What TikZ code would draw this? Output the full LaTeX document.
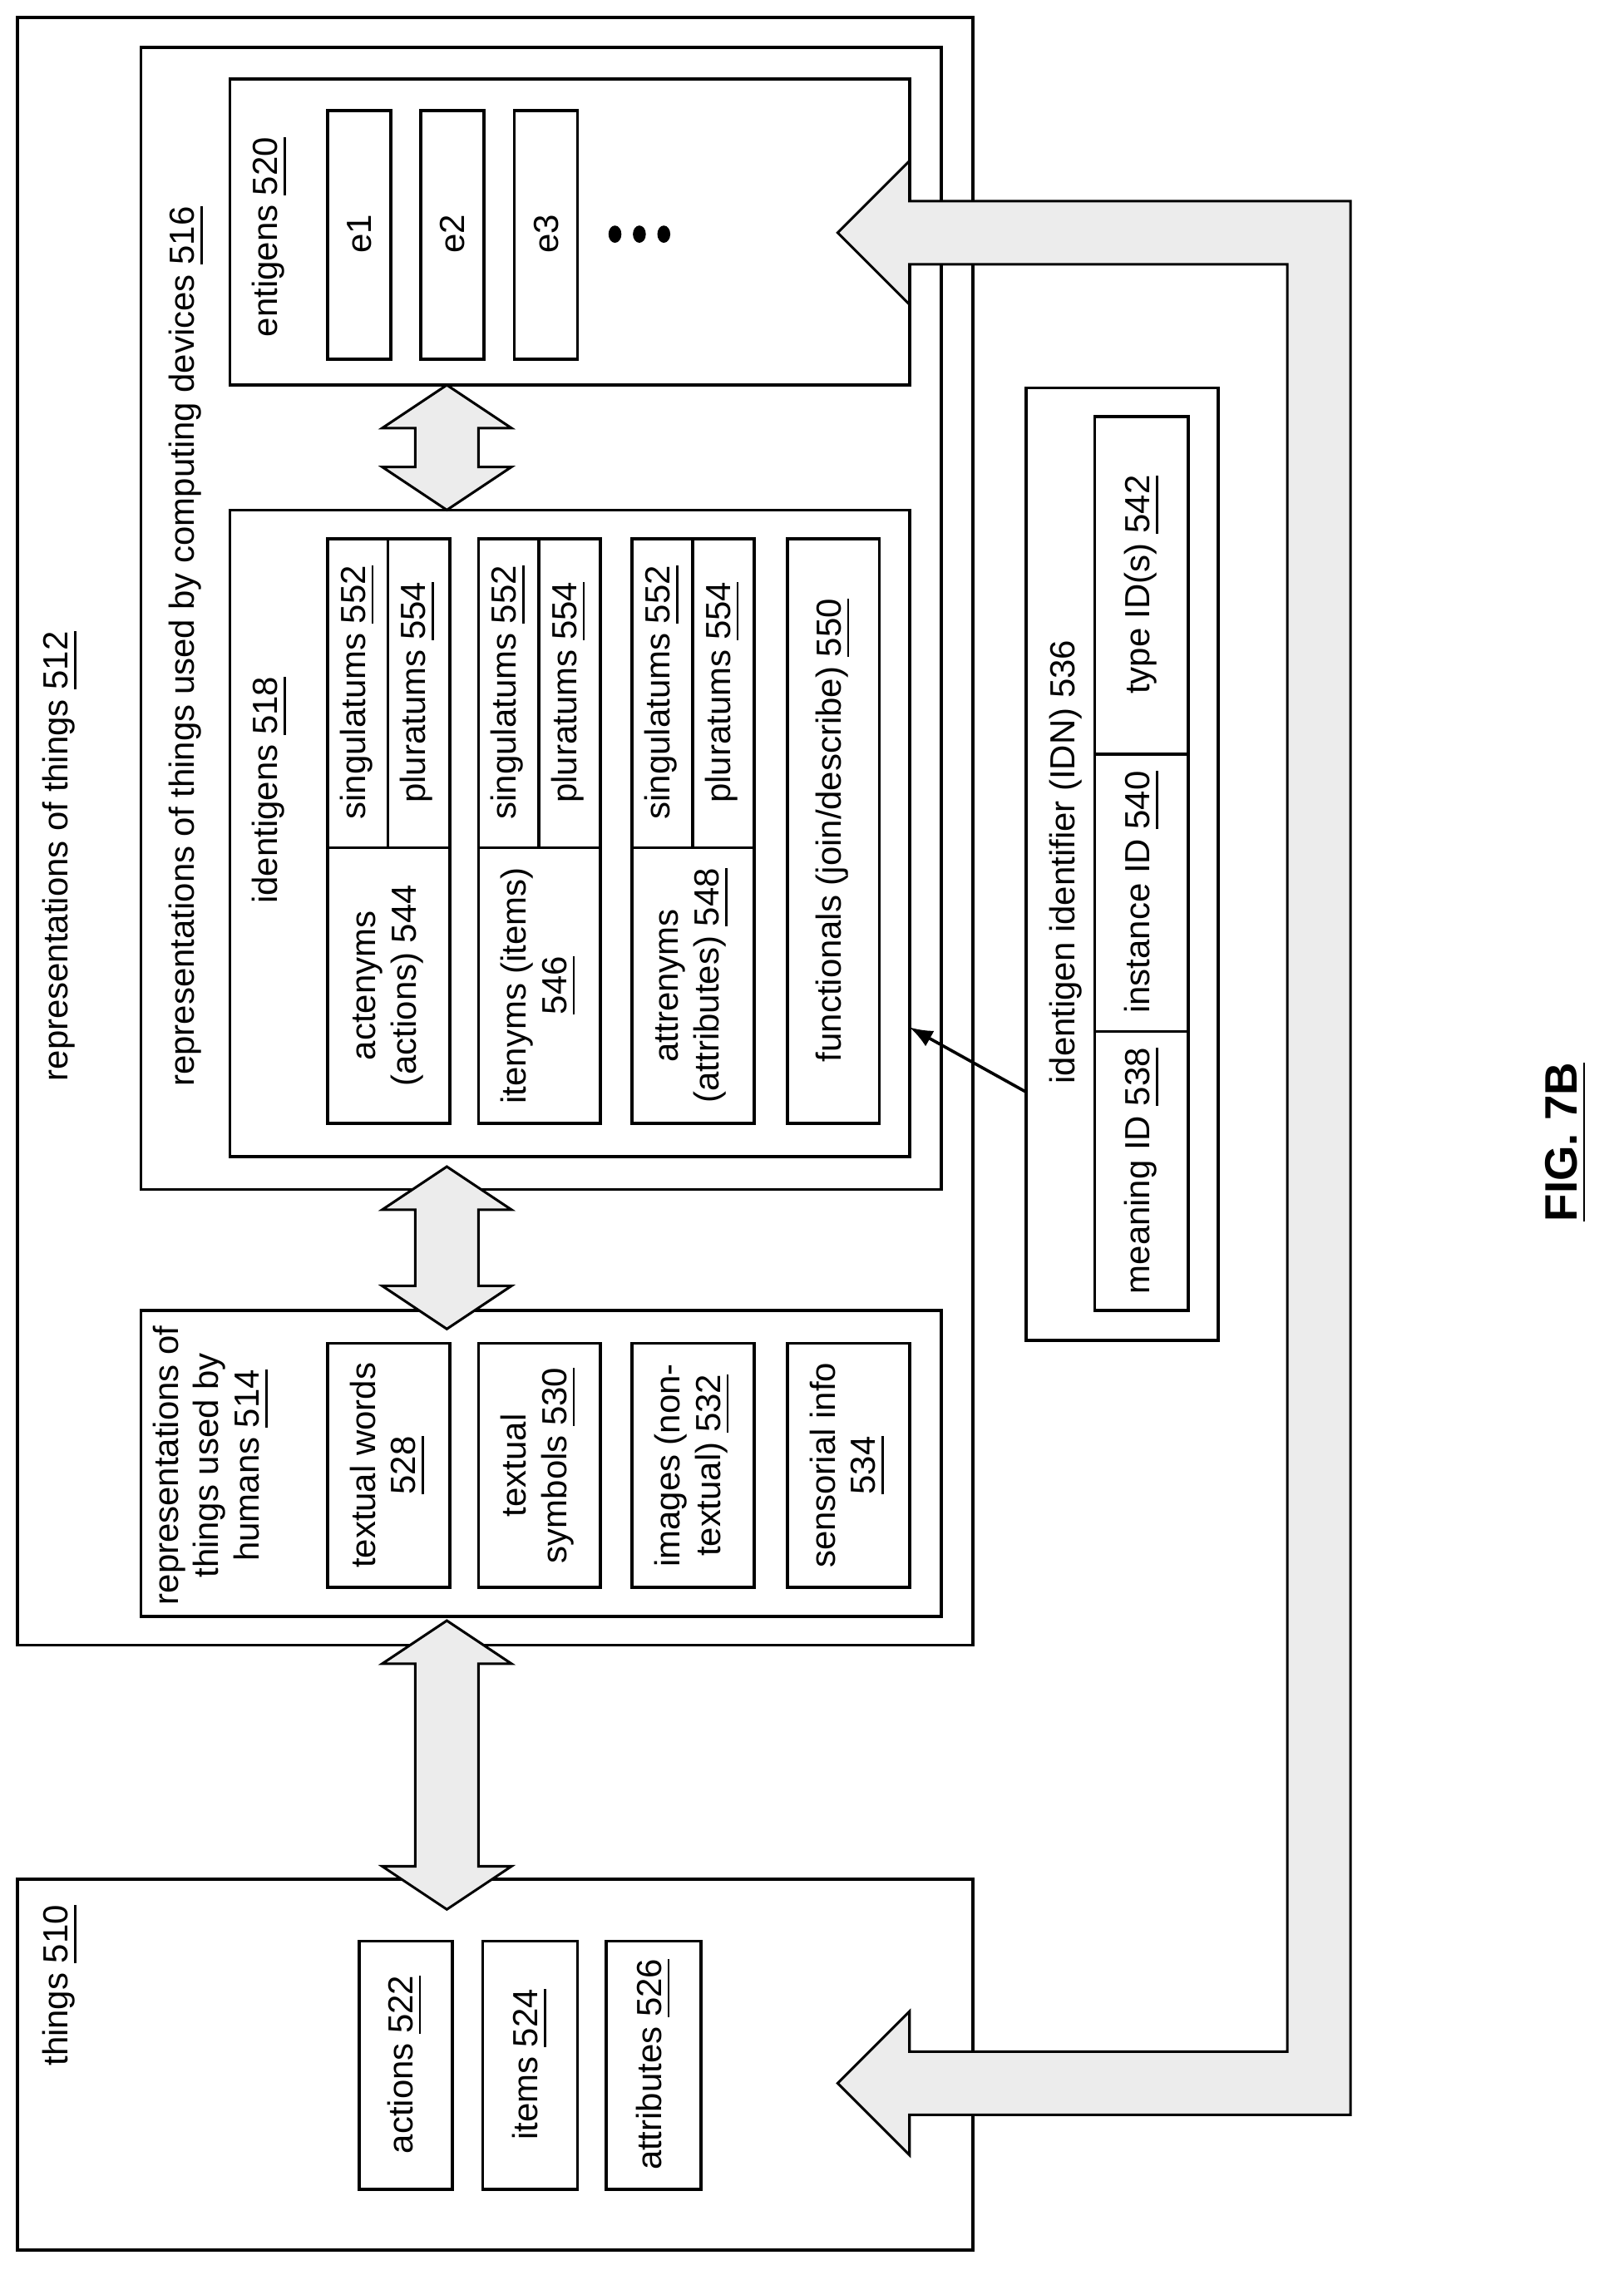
\documentclass[tikz,border=0pt]{standalone}
\usepackage{fontspec}
\setmainfont{Liberation Sans}
\usetikzlibrary{patterns}
\newcommand\un[1]{\underline{#1}}
\begin{document}
\begin{tikzpicture}[x=0.01cm,y=-0.01cm,line width=0.6pt,
  t/.style={rotate=90,align=center,inner sep=0pt,font=\fontsize{6.9}{8}\selectfont},
  fat/.style={draw,line width=0.5pt,fill=gray!15}]
\useasboundingbox (0,0) rectangle (1130,1580);
% outer boxes
\draw (12,12) rectangle (677,1145);
\node[t] (L512) at (42,596) {representations of things \un{512}};
\draw (12,1308) rectangle (677,1566);
\node[t] (L510) at (42,1382) {things \un{510}};
\draw (250,1351) rectangle (315,1524); \node[t] (a522) at (282,1437) {actions \un{522}};
\draw (336,1351) rectangle (402,1524); \node[t] (i524) at (369,1437) {items \un{524}};
\draw (422,1351) rectangle (488,1524); \node[t] (t526) at (455,1437) {attributes \un{526}};
% computing devices
\draw (98,33) rectangle (655,828);
\node[t] (L516) at (130,450) {representations of things used by computing devices \un{516}};
\draw (160,55) rectangle (633,268);
\node[t] (L520) at (188,165) {entigens \un{520}};
\foreach \x/\n in {228/e1,293/e2,358/e3}{\draw (\x,77) rectangle (\x+44,250); \node[t] at (\x+22,163) {\n};}
\foreach \x in {428,445,462}{\fill (\x,163) ellipse (4.5 and 6);}
\draw (160,355) rectangle (633,805);
\node[t] (L518) at (188,550) {identigens \un{518}};
\foreach \x/\a/\b in {228/{actenyms\\(actions) 544}/,333/{itenyms (items)\\\un{546}}/,440/{attrenyms\\(attributes) \un{548}}/}{
  \draw (\x,375) rectangle (\x+85,782);
  \draw (\x,590) -- (\x+85,590);
  \draw (\x+42,375) -- (\x+42,590);
  \node[t] at (\x+42,686) {\a};
  \node[t] at (\x+21,482) {singulatums \un{552}};
  \node[t] at (\x+63,482) {pluratums \un{554}};
}
\draw (548,375) rectangle (612,782);
\node[t] (f550) at (580,578) {functionals (join/describe) \un{550}};
% IDN
\draw (714,270) rectangle (848,933);
\node[t] (L536) at (742,600) {identigen identifier (IDN) 536};
\draw (762,290) rectangle (827,912);
\draw (762,718) -- (827,718); \draw (762,525) -- (827,525);
\node[t] at (795,815) {meaning ID \un{538}};
\node[t] at (795,621) {instance ID \un{540}};
\node[t] at (795,407) {type ID(s) \un{542}};
\coordinate (idnA) at (714,760); \coordinate (idnB) at (633,715);
\draw[-latex] (idnA) -- (idnB);
% humans
\draw (98,912) rectangle (655,1125);
\node[t] (L514) at (147,1020) {representations of\\things used by\\humans \un{514}};
\foreach \x/\s in {228/{textual words\\\un{528}},333/{textual\\symbols \un{530}},440/{images (non-\\textual) \un{532}},548/{sensorial info\\\un{534}}}{
  \draw (\x,935) rectangle (\x+85,1105); \node[t] at (\x+42,1020) {\s};}
% fat double arrows
\foreach \ya/\yb in {268/355,812/925,1128/1329}{
 \draw[fat] (311,\ya) -- (356,\ya+30) -- (333,\ya+30) -- (333,\yb-30) -- (356,\yb-30) -- (311,\yb) -- (266,\yb-30) -- (289,\yb-30) -- (289,\ya+30) -- (266,\ya+30) -- cycle;}
% U arrow
\draw[fat] (583,162) -- (633,112) -- (633,140) -- (940,140) -- (940,1472) -- (633,1472) -- (633,1500) -- (583,1450) -- (633,1400) -- (633,1428) -- (896,1428) -- (896,184) -- (633,184) -- (633,212) -- cycle;
\node[rotate=90,font=\bfseries\fontsize{9}{10}\selectfont] (fig) at (1090,795) {\un{FIG. 7B}};
\end{tikzpicture}
\end{document}
